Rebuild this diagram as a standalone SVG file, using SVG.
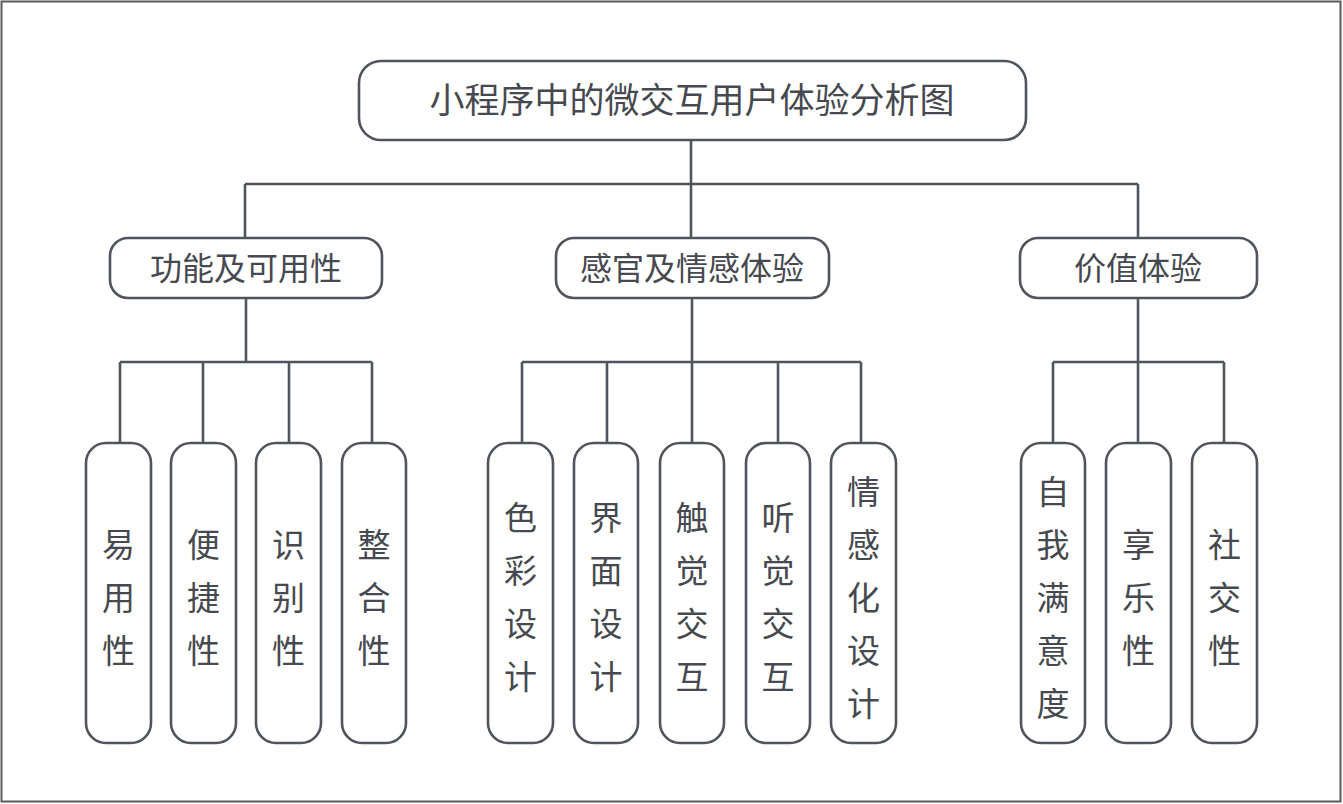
<svg xmlns="http://www.w3.org/2000/svg" width="1343" height="804" viewBox="0 0 1343 804">
<style>
.box{fill:#fff;stroke:#50545b;stroke-width:2.6}
.ln{fill:none;stroke:#50545b;stroke-width:2.6}
text{font-family:"Noto Sans CJK SC","Noto Sans",sans-serif;fill:#46494f;text-anchor:middle}
.t0{font-size:35px}
.t1{font-size:32px}
.t2{font-size:33px}
</style>
<rect x="1.5" y="1.5" width="1339" height="800" fill="#fff" stroke="#5a5a5a" stroke-width="2"/>
<g id="connectors">
<path class="ln" d="M691 140V184M245 184H1138M245 184V238M691 184V238M1138 184V238"/>
<path class="ln" d="M246 298V362M120 362H372M120 362V443M203 362V443M289 362V443M372 362V443"/>
<path class="ln" d="M692 298V362M522 362H861M522 362V443M607 362V443M692 362V443M778 362V443M861 362V443"/>
<path class="ln" d="M1138 298V362M1053 362H1224M1053 362V443M1138 362V443M1224 362V443"/>
</g>
<g id="root"><rect class="box" x="359" y="61" width="667" height="79" rx="22"/><text class="t0" x="692" y="113">小程序中的微交互用户体验分析图</text></g>
<g id="n_func"><rect class="box" x="110" y="238" width="272" height="60" rx="18"/><text class="t1" x="246" y="280">功能及可用性</text></g>
<g id="n_sense"><rect class="box" x="556" y="238" width="273" height="60" rx="18"/><text class="t1" x="692" y="280">感官及情感体验</text></g>
<g id="n_value"><rect class="box" x="1020" y="238" width="237" height="60" rx="18"/><text class="t1" x="1138" y="280">价值体验</text></g>
<g id="l_1"><rect class="box" x="86" y="443" width="65" height="300" rx="20"/><text class="t2" x="118.5" y="557">易</text><text class="t2" x="118.5" y="610">用</text><text class="t2" x="118.5" y="663">性</text></g>
<g id="l_2"><rect class="box" x="171" y="443" width="65" height="300" rx="20"/><text class="t2" x="203.5" y="557">便</text><text class="t2" x="203.5" y="610">捷</text><text class="t2" x="203.5" y="663">性</text></g>
<g id="l_3"><rect class="box" x="256" y="443" width="65" height="300" rx="20"/><text class="t2" x="288.5" y="557">识</text><text class="t2" x="288.5" y="610">别</text><text class="t2" x="288.5" y="663">性</text></g>
<g id="l_4"><rect class="box" x="342" y="443" width="64" height="300" rx="20"/><text class="t2" x="374" y="557">整</text><text class="t2" x="374" y="610">合</text><text class="t2" x="374" y="663">性</text></g>
<g id="l_5"><rect class="box" x="488" y="443" width="65" height="300" rx="20"/><text class="t2" x="520.5" y="530">色</text><text class="t2" x="520.5" y="583">彩</text><text class="t2" x="520.5" y="636">设</text><text class="t2" x="520.5" y="689">计</text></g>
<g id="l_6"><rect class="box" x="574" y="443" width="64" height="300" rx="20"/><text class="t2" x="606" y="530">界</text><text class="t2" x="606" y="583">面</text><text class="t2" x="606" y="636">设</text><text class="t2" x="606" y="689">计</text></g>
<g id="l_7"><rect class="box" x="660" y="443" width="64" height="300" rx="20"/><text class="t2" x="692" y="530">触</text><text class="t2" x="692" y="583">觉</text><text class="t2" x="692" y="636">交</text><text class="t2" x="692" y="689">互</text></g>
<g id="l_8"><rect class="box" x="746" y="443" width="64" height="300" rx="20"/><text class="t2" x="778" y="530">听</text><text class="t2" x="778" y="583">觉</text><text class="t2" x="778" y="636">交</text><text class="t2" x="778" y="689">互</text></g>
<g id="l_9"><rect class="box" x="831" y="443" width="65" height="300" rx="20"/><text class="t2" x="863.5" y="504">情</text><text class="t2" x="863.5" y="557">感</text><text class="t2" x="863.5" y="610">化</text><text class="t2" x="863.5" y="663">设</text><text class="t2" x="863.5" y="716">计</text></g>
<g id="l_10"><rect class="box" x="1021" y="443" width="64" height="300" rx="20"/><text class="t2" x="1053" y="504">自</text><text class="t2" x="1053" y="557">我</text><text class="t2" x="1053" y="610">满</text><text class="t2" x="1053" y="663">意</text><text class="t2" x="1053" y="716">度</text></g>
<g id="l_11"><rect class="box" x="1106" y="443" width="65" height="300" rx="20"/><text class="t2" x="1138.5" y="557">享</text><text class="t2" x="1138.5" y="610">乐</text><text class="t2" x="1138.5" y="663">性</text></g>
<g id="l_12"><rect class="box" x="1192" y="443" width="65" height="300" rx="20"/><text class="t2" x="1224.5" y="557">社</text><text class="t2" x="1224.5" y="610">交</text><text class="t2" x="1224.5" y="663">性</text></g>
</svg>
